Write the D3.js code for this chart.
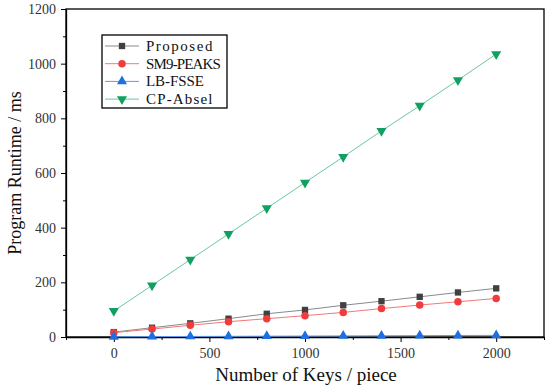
<!DOCTYPE html>
<html><head><meta charset="utf-8">
<script src="https://cdn.jsdelivr.net/npm/d3@7"></script>
<style>body{margin:0;background:#fff}svg{display:block}
.tick text{font-family:"Liberation Serif","Times New Roman",serif !important;font-size:14px;fill:#333}
.lgt{font-family:"Liberation Serif","Times New Roman",serif;font-size:15px;fill:#111}
.lab{font-family:"Liberation Serif","Times New Roman",serif;fill:#111}
</style>
</head><body><svg id="c" width="550" height="391"></svg>
<script>
const keys = [0,200,400,600,800,1000,1200,1400,1600,1800,2000];
const proposed = [18,34,50,67,85,99,116,131,147,163,178];
const sm9 = [16,29,43,56,67,78,90,104,117,129,141];
const lbfsse = [1,1.5,2,2.5,3,3.5,4,4.5,5,5.5,6];
const cpabsel = [95,189,283,377,471,565,659,754,846,940,1035];
const xTicks = [0,500,1000,1500,2000];
const yTicks = [0,200,400,600,800,1000,1200];
const seriesNames = ["Proposed","SM9-PEAKS","LB-FSSE","CP-Absel"];

const series = [
  {name:seriesNames[0], vals:proposed, color:"#404040", line:"#8a8a8a", sym:d3.symbolSquare, size:40, rot:0},
  {name:seriesNames[1], vals:sm9, color:"#f03c3c", line:"#f07a7a", sym:d3.symbolCircle, size:44, rot:0},
  {name:seriesNames[2], vals:lbfsse, color:"#1f6fe0", line:"#5f9be8", sym:d3.symbolTriangle, size:44, rot:0},
  {name:seriesNames[3], vals:cpabsel, color:"#10a060", line:"#6cc79e", sym:d3.symbolTriangle, size:44, rot:180}
];

const svg = d3.select("#c");
const L=66, R=544, T=9, B=337;
const x = d3.scaleLinear().domain([-250,2250]).range([L,R]);
const y = d3.scaleLinear().domain([0,1200]).range([B,T]);

svg.append("rect").attr("x",L).attr("y",T).attr("width",R-L).attr("height",B-T)
  .attr("fill","none").attr("stroke","#000").attr("stroke-width",1.3);

svg.append("g").attr("transform",`translate(0,${B})`)
  .call(d3.axisBottom(x).tickValues(xTicks).tickSize(5).tickSizeOuter(0).tickPadding(6).tickFormat(d3.format("d")));
svg.append("g").attr("transform",`translate(0,${B})`)
  .call(d3.axisBottom(x).tickValues([-250,250,750,1250,1750,2250]).tickSize(3).tickSizeOuter(0).tickFormat(""))
  .select(".domain").remove();
svg.append("g").attr("transform",`translate(${L},0)`)
  .call(d3.axisLeft(y).tickValues(yTicks).tickSize(5).tickSizeOuter(0).tickPadding(5).tickFormat(d3.format("d")));
svg.append("g").attr("transform",`translate(${L},0)`)
  .call(d3.axisLeft(y).tickValues([100,300,500,700,900,1100]).tickSize(3).tickSizeOuter(0).tickFormat(""))
  .select(".domain").remove();
svg.selectAll(".domain").attr("stroke","#000").attr("stroke-width",1.3);
svg.selectAll(".tick line").attr("stroke","#000");
svg.selectAll("g").attr("font-family",null);

svg.append("text").attr("class","lab").attr("x",(L+R)/2+1).attr("y",381).attr("text-anchor","middle")
  .style("font-size","19px").text("Number of Keys / piece");
svg.append("text").attr("class","lab").attr("transform",`translate(21,${(T+B)/2}) rotate(-90)`).attr("text-anchor","middle")
  .style("font-size","18px").text("Program Runtime / ms");

const lineGen = d3.line().x((d,i)=>x(keys[i])).y(d=>y(d));
series.forEach(s=>{
  svg.append("path").datum(s.vals).attr("d",lineGen).attr("fill","none")
    .attr("stroke",s.line).attr("stroke-width",1);
});
series.forEach(s=>{
  const sym = d3.symbol().type(s.sym).size(s.size);
  svg.append("g").selectAll("path").data(s.vals).join("path")
    .attr("d",sym)
    .attr("transform",(d,i)=>`translate(${x(keys[i])},${y(d)}) rotate(${s.rot})`)
    .attr("fill",s.color);
});

const lg = svg.append("g");
lg.append("rect").attr("x",102).attr("y",35).attr("width",125).attr("height",73)
  .attr("fill","#fff").attr("stroke","#000").attr("stroke-width",1.3);
series.forEach((s,i)=>{
  const yy = 46 + i*17.7;
  lg.append("line").attr("x1",105).attr("x2",139).attr("y1",yy).attr("y2",yy).attr("stroke",s.line).attr("stroke-width",1);
  lg.append("path").attr("d",d3.symbol().type(s.sym).size(s.size)())
    .attr("transform",`translate(122,${yy}) rotate(${s.rot})`).attr("fill",s.color);
  lg.append("text").attr("class","lgt").attr("x",146).attr("y",yy+5)
    .attr("textLength",s.name.length*8.55-2).attr("lengthAdjust","spacing").text(s.name);
});
</script></body></html>
